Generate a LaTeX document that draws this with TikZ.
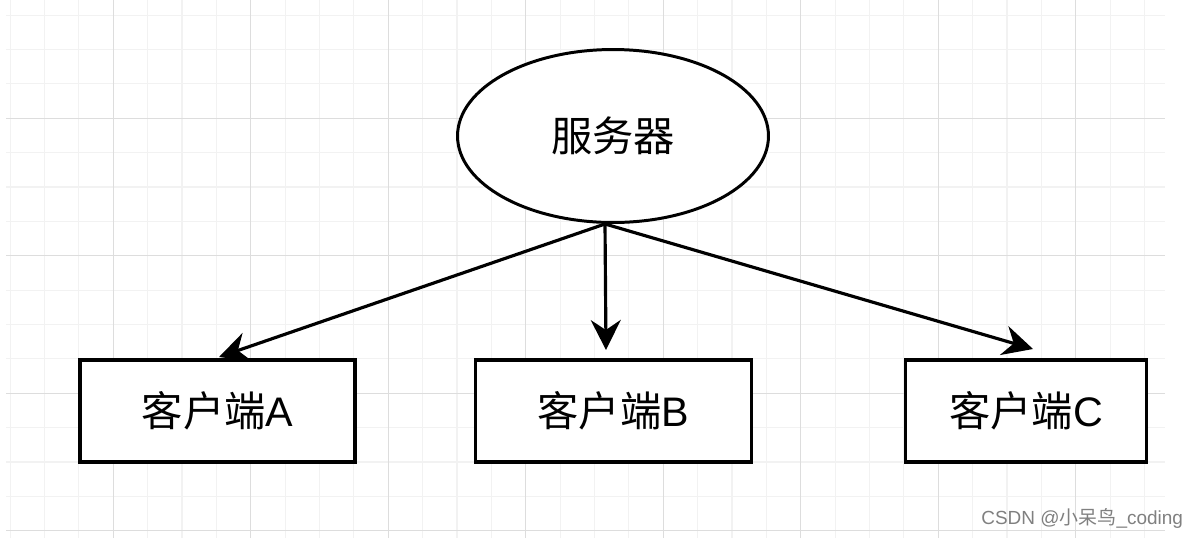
\documentclass[tikz,border=0pt]{standalone}
\usepackage{fontspec}
\setmainfont{Liberation Sans}
\newfontfamily\cjk{Noto Sans CJK SC}
\usepackage{xcolor}
\usetikzlibrary{arrows.meta,shapes.geometric,calc}

\definecolor{gridminor}{HTML}{F2F2F2}
\definecolor{gridmajor}{HTML}{DDDDDD}

\begin{document}
\begin{tikzpicture}[x=0.02cm,y=-0.02cm,
    client/.style={draw,line width=1.8pt,minimum height=2.04cm,inner sep=0pt,
      font=\fontsize{23.5}{27}\selectfont},
    link/.style={line width=1.8pt,-{Stealth[length=0.6cm,width=0.6cm,inset=0.2cm]}}]
  \useasboundingbox (0,0) rectangle (1196,538);
  \fill[white] (0,0) rectangle (1196,538);

  % background grid
  \foreach \k in {0,...,33}
    \draw[gridminor,line width=0.6pt] ({10.1+34.375*\k},0) -- ({10.1+34.375*\k},538);
  \foreach \k in {0,...,15}
    \draw[gridminor,line width=0.6pt] (6,{15.1+34.375*\k}) -- (1165,{15.1+34.375*\k});
  \foreach \k in {3,7,...,31}
    \draw[gridmajor,line width=0.6pt] ({10.1+34.375*\k},0) -- ({10.1+34.375*\k},538);
  \foreach \k in {3,7,11,15}
    \draw[gridmajor,line width=0.6pt] (6,{15.1+34.375*\k}) -- (1165,{15.1+34.375*\k});

  \node[ellipse,draw,line width=1.7pt,fill=white,minimum width=6.22cm,minimum height=3.46cm,
    inner sep=0pt,font=\fontsize{23.5}{27}\selectfont\cjk] (srv) at (613,136) {服务器};

  \node[client,fill=white,minimum width=5.5cm] (cliA) at (217.5,411) {{\cjk 客户端}A};
  \node[client,fill=white,minimum width=5.53cm] (cliB) at (613.3,411) {{\cjk 客户端}B};
  \node[client,fill=white,minimum width=4.82cm] (cliC) at (1026.2,411) {{\cjk 客户端}C};

  \coordinate (src) at ($(srv.south)+(-8,0)$);
  \coordinate (tipA) at (219,357);
  \coordinate (tipB) at (606,350);
  \coordinate (tipC) at (1033,349);
  \draw[link] (src) -- (tipA);
  \draw[link] (src) -- (tipB);
  \draw[link] (src) -- (tipC);

  \node[anchor=west,text=black!50,inner sep=0pt,font=\fontsize{10.8}{12}\selectfont] (mark) at (981,518)
    {CSDN @{\cjk 小呆鸟}\_coding};
\end{tikzpicture}
\end{document}
